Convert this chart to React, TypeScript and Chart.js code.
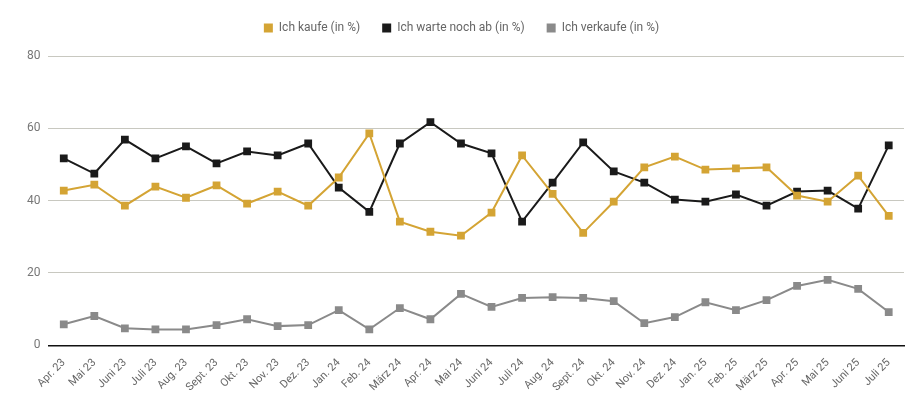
import React, { useEffect, useRef } from 'react';
import { Chart, registerables } from 'chart.js';

Chart.register(...registerables);

const months = [
  'Apr. 23', 'Mai 23', 'Juni 23', 'Juli 23', 'Aug. 23', 'Sept. 23', 'Okt. 23', 'Nov. 23', 'Dez. 23',
  'Jan. 24', 'Feb. 24', 'März 24', 'Apr. 24', 'Mai 24', 'Juni 24', 'Juli 24', 'Aug. 24', 'Sept. 24',
  'Okt. 24', 'Nov. 24', 'Dez. 24', 'Jan. 25', 'Feb. 25', 'März 25', 'Apr. 25', 'Mai 25', 'Juni 25', 'Juli 25'
];

const kaufe = [
  42.8, 44.4, 38.6, 43.9, 40.8, 44.2, 39.2, 42.5, 38.6, 46.4, 58.6, 34.2, 31.4, 30.3,
  36.7, 52.5, 41.9, 31.1, 39.7, 49.2, 52.2, 48.6, 48.9, 49.2, 41.4, 39.7, 46.9, 35.8
];

const warte = [
  51.7, 47.5, 56.9, 51.7, 55.0, 50.3, 53.6, 52.5, 55.8, 43.6, 36.9, 55.8, 61.7, 55.8,
  53.1, 34.2, 45.0, 56.1, 48.1, 45.0, 40.3, 39.7, 41.7, 38.6, 42.5, 42.8, 37.8, 55.3
];

const verkaufe = [
  5.8, 8.1, 4.7, 4.4, 4.4, 5.6, 7.2, 5.3, 5.6, 9.7, 4.4, 10.3, 7.2, 14.2,
  10.6, 13.1, 13.3, 13.1, 12.2, 6.1, 7.8, 11.9, 9.7, 12.5, 16.4, 18.1, 15.6, 9.2
];

const yTicks = [0, 20, 40, 60, 80];

const GOLD = '#d4a434';
const BLACK = '#1a1a1a';
const GREY = '#8a8a8a';

// pushes the plot area down below the legend
const legendGap = {
  id: 'legendGap',
  beforeInit(chart: any) {
    const origFit = chart.legend.fit;
    chart.legend.fit = function () {
      origFit.bind(chart.legend)();
      this.height += 12;
    };
  }
};

const App: React.FC = () => {
  const chartRef = useRef<HTMLCanvasElement>(null);
  const chartInstance = useRef<Chart | null>(null);

  useEffect(() => {
    document.body.style.margin = '0';
    if (!chartRef.current) return;
    const ctx = chartRef.current.getContext('2d');
    if (!ctx) return;

    const series = (label: string, data: number[], color: string) => ({
      label,
      data,
      borderColor: color,
      backgroundColor: color,
      borderWidth: 2,
      pointStyle: 'rect' as const,
      pointRadius: 5.5,
      pointBorderWidth: 0,
      tension: 0
    });

    chartInstance.current = new Chart(ctx, {
      type: 'line',
      data: {
        labels: months,
        datasets: [
          series('Ich kaufe (in %)', kaufe, GOLD),
          series('Ich warte noch ab (in %)', warte, BLACK),
          series('Ich verkaufe (in %)', verkaufe, GREY)
        ]
      },
      plugins: [legendGap],
      options: {
        animation: false,
        responsive: true,
        maintainAspectRatio: false,
        layout: { padding: { left: 19, right: 20, top: 0, bottom: 10 } },
        font: { family: 'Roboto' },
        scales: {
          x: {
            offset: true,
            grid: { display: false },
            border: { color: '#111', width: 1.5 },
            ticks: {
              color: '#666',
              font: { family: 'Roboto', size: 11 },
              maxRotation: 45,
              minRotation: 45,
              autoSkip: false
            }
          },
          y: {
            min: 0,
            max: 80,
            afterBuildTicks: (axis) => {
              axis.ticks = yTicks.map((v) => ({ value: v }));
            },
            grid: { color: '#c8c8c0', drawTicks: false },
            border: { display: false },
            ticks: {
              color: '#777',
              padding: 8,
              font: { family: 'Roboto', size: 12 }
            }
          }
        },
        plugins: {
          legend: {
            position: 'top',
            labels: {
              usePointStyle: true,
              pointStyle: 'rect',
              boxWidth: 9,
              boxHeight: 9,
              padding: 22,
              color: '#666',
              font: { family: 'Roboto', size: 12 }
            }
          },
          tooltip: { enabled: false }
        }
      }
    });

    return () => {
      if (chartInstance.current) {
        chartInstance.current.destroy();
        chartInstance.current = null;
      }
    };
  }, []);

  return (
    <div style={{ position: 'relative', width: 924, height: 407, background: '#fff' }}>
      <canvas ref={chartRef}></canvas>
    </div>
  );
};

export default App;
